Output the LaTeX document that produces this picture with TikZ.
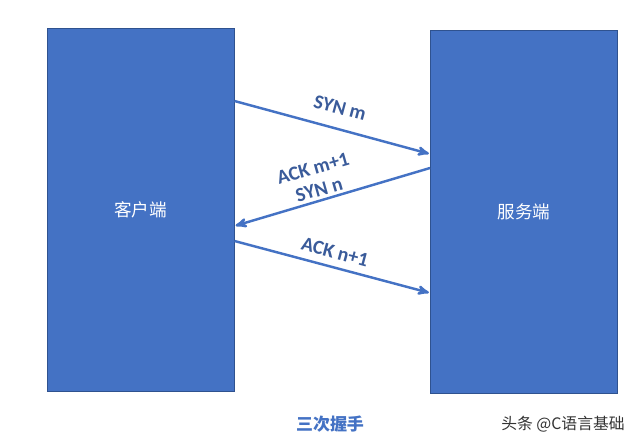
\documentclass[tikz,border=0pt]{standalone}
\usepackage{fontspec}
\setmainfont{Carlito}
\newfontfamily\cjk{Noto Sans CJK SC}
\usetikzlibrary{arrows,positioning}
\definecolor{boxblue}{HTML}{4472C4}
\definecolor{boxedge}{HTML}{2F528F}
\definecolor{msgblue}{HTML}{3A5B9A}
\definecolor{markgray}{HTML}{333333}

\begin{document}
\begin{tikzpicture}[x=0.03cm,y=-0.03cm,>=stealth',line width=2.1pt]
  \tikzstyle{host}=[rectangle,draw=boxedge,fill=boxblue,line width=0.8pt,minimum width=5.61cm,
                    minimum height=10.89cm,inner sep=0pt,text=white,font=\cjk\fontsize{15}{17}\selectfont]
  \tikzstyle{msg}=[text=msgblue,font=\bfseries\fontsize{17}{19}\selectfont,align=center,inner sep=0pt]
  \tikzstyle{msg arrow}=[->,draw=boxblue,shorten >=1pt]

  \useasboundingbox (0,0) rectangle (641,444);

  \node[host] (client) at (140.5,209.5) {客户端};
  \node[host] (server) at (524,211.5)   {服务端};

  \draw[msg arrow] (client.east |- 0,101) -- (server.west |- 0,154);
  \draw[msg arrow] (server.west |- 0,168) -- (client.east |- 0,226);
  \draw[msg arrow] (client.east |- 0,241) -- (server.west |- 0,293);

  \node[msg,rotate=-15] (syn)    at (340,108) {SYN m};
  \node[msg,rotate=16]  (synack) at (316,179) {ACK m+1\\SYN n};
  \node[msg,rotate=-15] (ack)    at (335,252) {ACK n+1};

  \node[text=boxblue,font=\cjk\bfseries\fontsize{14.5}{17}\selectfont] (title) at (330,424) {三次握手};
  \node[text=markgray,font=\cjk\fontsize{13.5}{16}\selectfont] (mark) at (563,424) {头条 @C语言基础};
\end{tikzpicture}
\end{document}
